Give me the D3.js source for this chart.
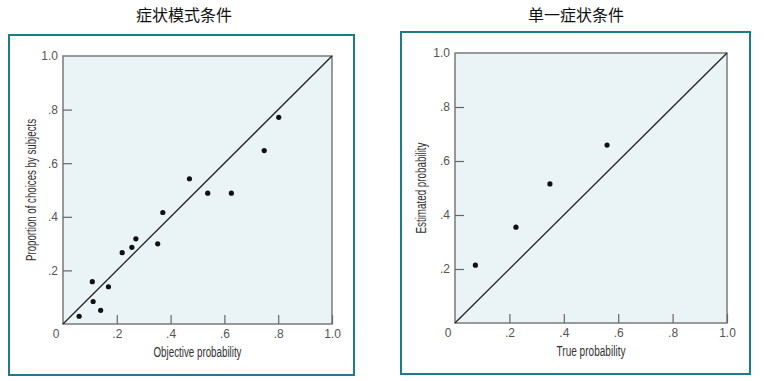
<!DOCTYPE html>
<html>
<head>
<meta charset="utf-8">
<script src="https://cdn.jsdelivr.net/npm/d3@7"></script>
<style>
  body { margin: 0; background: #fff; }
  .tick text { font-family: "Liberation Sans", sans-serif; }
</style>
</head>
<body>
<svg id="chart" width="764" height="381"></svg>
<script>
// left panel: symptom pattern condition
var leftX = [0.060, 0.109, 0.112, 0.140, 0.169, 0.220, 0.256, 0.271, 0.352, 0.371, 0.470, 0.538, 0.626, 0.748, 0.802];
var leftY = [0.029, 0.158, 0.084, 0.051, 0.139, 0.266, 0.286, 0.318, 0.299, 0.416, 0.542, 0.488, 0.488, 0.647, 0.771];
// right panel: single symptom condition
var rightX = [0.075, 0.224, 0.349, 0.559];
var rightY = [0.214, 0.355, 0.515, 0.659];

var tickVals = [0, 0.2, 0.4, 0.6, 0.8, 1.0];
var tickLabels = ["0", ".2", ".4", ".6", ".8", "1.0"];

var titles = ["症状模式条件", "单一症状条件"];
var xTitles = ["Objective probability", "True probability"];
var yTitles = ["Proportion of choices by subjects", "Estimated probability"];

var svg = d3.select("#chart");

// condensed look: squeeze text horizontally
var narrow = "'Liberation Sans', sans-serif";

var panels = [
  {box: [9, 35, 345, 340], plot: [63, 56, 269, 268], title: [184, 21], xs: leftX, ys: leftY, yTitleX: 36, xw: 88, yw: 142},
  {box: [401, 32, 349, 342], plot: [455, 53, 272, 270], title: [576, 21], xs: rightX, ys: rightY, yTitleX: 426, xw: 69, yw: 91}
];

function fmt(d) { return tickLabels[tickVals.indexOf(d)] || ""; }

panels.forEach(function(p, k) {
  // chart title
  svg.append("text")
    .attr("x", p.title[0]).attr("y", p.title[1])
    .attr("text-anchor", "middle")
    .style("font-family", "'Noto Sans CJK SC', sans-serif")
    .style("font-size", "16px")
    .style("fill", "#111")
    .text(titles[k]);

  // teal frame
  svg.append("rect")
    .attr("x", p.box[0]).attr("y", p.box[1])
    .attr("width", p.box[2]).attr("height", p.box[3])
    .attr("fill", "#fff")
    .attr("stroke", "#1c7d89")
    .attr("stroke-width", 2);

  var px = p.plot[0], py = p.plot[1], pw = p.plot[2], ph = p.plot[3];
  var x = d3.scaleLinear().domain([0, 1]).range([px, px + pw]);
  var y = d3.scaleLinear().domain([0, 1]).range([py + ph, py]);

  svg.append("rect")
    .attr("x", px).attr("y", py).attr("width", pw).attr("height", ph)
    .attr("fill", "#eaf4f7")
    .attr("stroke", "#7a7a7a")
    .attr("stroke-width", 1.5);

  // axes with inward ticks
  var xAxis = d3.axisTop(x).tickValues(tickVals.slice(1)).tickSize(9).tickFormat("");
  var gx = svg.append("g").attr("transform", "translate(0," + (py + ph) + ")").call(xAxis);
  gx.select(".domain").remove();
  gx.selectAll(".tick line").attr("stroke", "#666").attr("stroke-width", 1.2);

  var yAxis = d3.axisRight(y).tickValues(tickVals.slice(1, 5)).tickSize(9).tickFormat("");
  var gy = svg.append("g").attr("transform", "translate(" + px + ",0)").call(yAxis);
  gy.select(".domain").remove();
  gy.selectAll(".tick line").attr("stroke", "#666").attr("stroke-width", 1.2);

  // tick labels
  var xl = d3.axisBottom(x).tickValues(tickVals.slice(1)).tickSize(0).tickPadding(5).tickFormat(fmt);
  var gxl = svg.append("g").attr("transform", "translate(0," + (py + ph) + ")").call(xl);
  gxl.select(".domain").remove();
  gxl.selectAll("text").style("font-size", "12px").style("fill", "#555");

  var yl = d3.axisLeft(y).tickValues(tickVals.slice(1)).tickSize(0).tickPadding(5).tickFormat(fmt);
  var gyl = svg.append("g").attr("transform", "translate(" + px + ",0)").call(yl);
  gyl.select(".domain").remove();
  gyl.selectAll("text").style("font-size", "12px").style("fill", "#555");

  svg.append("text")
    .attr("x", px - 7).attr("y", py + ph + 14)
    .attr("text-anchor", "middle")
    .style("font-family", narrow)
    .style("font-size", "12px").style("fill", "#555")
    .text(tickLabels[0]);

  // axis titles
  svg.append("text")
    .attr("x", px + pw / 2).attr("y", py + ph + 33)
    .attr("text-anchor", "middle")
    .attr("textLength", p.xw)
    .attr("lengthAdjust", "spacingAndGlyphs")
    .style("font-family", narrow)
    .style("font-size", "14px").style("fill", "#333")
    .text(xTitles[k]);

  svg.append("text")
    .attr("transform", "translate(" + p.yTitleX + "," + (py + ph / 2) + ") rotate(-90)")
    .attr("text-anchor", "middle")
    .attr("textLength", p.yw)
    .attr("lengthAdjust", "spacingAndGlyphs")
    .style("font-family", narrow)
    .style("font-size", "14px").style("fill", "#333")
    .text(yTitles[k]);

  // identity line
  svg.append("line")
    .attr("x1", x(0)).attr("y1", y(0))
    .attr("x2", x(1)).attr("y2", y(1))
    .attr("stroke", "#222").attr("stroke-width", 1.3);

  // points
  svg.append("g").selectAll("circle")
    .data(d3.range(p.xs.length))
    .join("circle")
    .attr("cx", function(i) { return x(p.xs[i]); })
    .attr("cy", function(i) { return y(p.ys[i]); })
    .attr("r", 2.6)
    .attr("fill", "#111");
});
</script>
</body>
</html>
